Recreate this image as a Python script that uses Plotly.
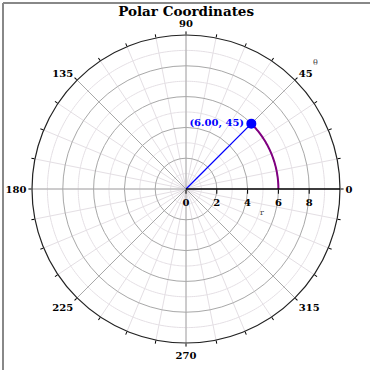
import numpy as np
import plotly.graph_objects as go

# ---- data ----
point_r = 6.0
point_theta = 45
radial_ticks = [0, 2, 4, 6, 8]
radial_minor = [1, 3, 5, 7, 9]
angular_major = [0, 45, 90, 135, 180, 225, 270, 315]
angular_minor_step = 11.25
r_max = 10
title_text = "Polar Coordinates"
label_text = "(6.00, 45)"

FONT = "DejaVu Serif"
W = H = 370
L, R, T, B = 32, 30, 35, 27
pw, ph = W - L - R, H - T - B

fig = go.Figure()

full = np.linspace(0, 360, 361)
for rv in radial_minor:
    fig.add_trace(go.Scatterpolar(r=[rv] * len(full), theta=full, mode="lines",
                                  line=dict(color="#e4dfe4", width=1),
                                  hoverinfo="skip", showlegend=False))
for av in angular_major:
    if av == 0:
        continue
    fig.add_trace(go.Scatterpolar(r=[0, r_max], theta=[av, av], mode="lines",
                                  line=dict(color="#a8a8a8", width=1),
                                  hoverinfo="skip", showlegend=False))

# arc
arc_theta = np.linspace(0, point_theta, 60)
fig.add_trace(go.Scatterpolar(r=[point_r] * len(arc_theta), theta=arc_theta, mode="lines",
                              line=dict(color="#800080", width=2),
                              hoverinfo="skip", showlegend=False))
# vector line
fig.add_trace(go.Scatterpolar(r=[0, point_r], theta=[0, point_theta], mode="lines",
                              line=dict(color="#0000ff", width=1.3),
                              hoverinfo="skip", showlegend=False))
# point
fig.add_trace(go.Scatterpolar(r=[point_r], theta=[point_theta], mode="markers+text",
                              marker=dict(color="#0000ff", size=10),
                              text=["<b>" + label_text + "</b>"], textposition="middle left",
                              textfont=dict(family=FONT, size=10, color="#0000ff"),
                              hoverinfo="skip", showlegend=False))

ang_vals = list(np.arange(0, 360, angular_minor_step))
ang_text = [("<b>%d</b>" % v if v % 45 == 0 else "") for v in ang_vals]

fig.update_layout(
    width=W, height=H,
    margin=dict(l=L, r=R, t=T, b=B),
    paper_bgcolor="white",
    font=dict(family=FONT, size=10, color="black"),
    title=dict(text="<b>" + title_text + "</b>", x=0.503, xanchor="center",
               y=1 - 11 / H, yanchor="middle",
               font=dict(family=FONT, size=13.5, color="black")),
    polar=dict(
        bgcolor="white",
        domain=dict(x=[0, 1], y=[0, 1]),
        radialaxis=dict(range=[0, r_max], angle=0, tickangle=0,
                        tickvals=radial_ticks,
                        ticktext=["<b>%d</b>" % v for v in radial_ticks],
                        gridcolor="#a8a8a8", gridwidth=1,
                        showline=True, linecolor="black", linewidth=1.5,
                        ticks="outside", ticklen=4, tickcolor="black",
                        side="clockwise",
                        tickfont=dict(family=FONT, size=10, color="black")),
        angularaxis=dict(rotation=0, direction="counterclockwise",
                         tickvals=ang_vals, ticktext=ang_text,
                         gridcolor="#e4dfe4", gridwidth=1,
                         showline=True, linecolor="#222222", linewidth=1.2,
                         ticks="outside", ticklen=3, tickcolor="black",
                         tickfont=dict(family=FONT, size=10, color="black")),
    ),
    annotations=[
        dict(text="θ", x=(320 - L) / pw, y=1 - (56 - T) / ph, xref="paper", yref="paper",
             showarrow=False, font=dict(family=FONT, size=8, color="#444")),
        dict(text="r", x=(266 - L) / pw, y=1 - (212 - T) / ph, xref="paper", yref="paper",
             showarrow=False, font=dict(family=FONT, size=8, color="#444")),
    ],
    shapes=[
        dict(type="line", xref="paper", yref="paper",
             x0=(3 - L) / pw, x1=(372 - L) / pw, y0=1 + (T - 3) / ph, y1=1 + (T - 3) / ph,
             line=dict(color="#888888", width=2)),
        dict(type="line", xref="paper", yref="paper",
             x0=(3 - L) / pw, x1=(3 - L) / pw, y0=1 + (T - 3) / ph, y1=-(B + 2) / ph,
             line=dict(color="#888888", width=2)),
    ],
)

fig.write_html("out.html", config={"displayModeBar": False},
               post_script="document.body.style.margin='0px';")
